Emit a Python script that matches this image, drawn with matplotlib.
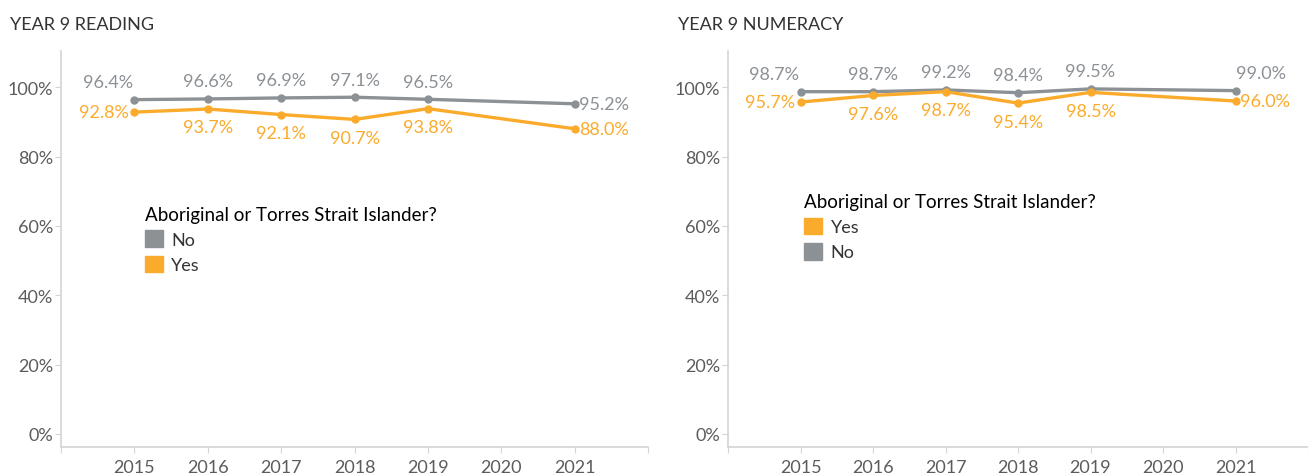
import matplotlib.pyplot as plt
from matplotlib.patches import Patch
from matplotlib.ticker import PercentFormatter

plt.rcParams['font.family'] = ['Lato', 'DejaVu Sans']

# Data (2020 missing)
years = [2015, 2016, 2017, 2018, 2019, 2021]
reading_no = [96.4, 96.6, 96.9, 97.1, 96.5, 95.2]
reading_yes = [92.8, 93.7, 92.1, 90.7, 93.8, 88.0]
numeracy_no = [98.7, 98.7, 99.2, 98.4, 99.5, 99.0]
numeracy_yes = [95.7, 97.6, 98.7, 95.4, 98.5, 96.0]

# where each label sits relative to its point
reading_no_pos = ['aboveleft', 'above', 'above', 'above', 'above', 'right']
reading_yes_pos = ['left', 'below', 'below', 'below', 'below', 'right']
numeracy_no_pos = ['aboveleft', 'above', 'above', 'above', 'above', 'aboveright']
numeracy_yes_pos = ['left', 'below', 'below', 'below', 'below', 'right']

GREY = '#8c9196'
ORANGE = '#fbab2b'
AXIS = '#d4d4d4'
TEXT = '#5c5c5c'

offsets = {
    'above': ((0, 9), 'center', 'baseline'),
    'aboveleft': ((-1, 9), 'right', 'baseline'),
    'aboveright': ((0, 9), 'left', 'baseline'),
    'below': ((0, -7.5), 'center', 'top'),
    'left': ((-4, 0), 'right', 'center'),
    'right': ((3, 0), 'left', 'center'),
}


def draw_series(ax, vals, pos, color):
    ax.plot(years, vals, color=color, lw=2.4, marker='o', ms=5, zorder=3)
    for x, v, p in zip(years, vals, pos):
        off, ha, va = offsets[p]
        ax.annotate(f'{v:.1f}%', (x, v), xytext=off, textcoords='offset points',
                    ha=ha, va=va, color=color, fontsize=13)


def style_axes(ax):
    ax.set_xlim(2014, 2022)
    ax.set_ylim(-3.75, 110.4)
    ax.set_yticks([0, 20, 40, 60, 80, 100])
    ax.yaxis.set_major_formatter(PercentFormatter(decimals=0))
    ax.set_xticks(range(2014, 2023))
    ax.set_xticklabels([''] + [str(y) for y in range(2015, 2022)] + [''])
    for s in ['top', 'right']:
        ax.spines[s].set_visible(False)
    for s in ['left', 'bottom']:
        ax.spines[s].set_color(AXIS)
        ax.spines[s].set_linewidth(1.2)
    ax.tick_params(colors=AXIS, labelcolor=TEXT, labelsize=13, length=4)
    ax.tick_params(axis='y', pad=1.5)
    ax.tick_params(axis='x', pad=4.5)


def add_legend(ax, handles, anchor):
    ax.legend(handles=handles, title='Aboriginal or Torres Strait Islander?',
              loc='upper left', bbox_to_anchor=anchor, frameon=False,
              alignment='left', borderpad=0, fontsize=13, title_fontsize=13.5,
              handlelength=1.0, handleheight=1.05, handletextpad=0.45,
              labelspacing=0.42, labelcolor='#333333')


fig = plt.figure(figsize=(13.08, 4.77), dpi=100)
ax1 = fig.add_axes([0.0466, 0.0608, 0.449, 0.830])
ax2 = fig.add_axes([0.5566, 0.0608, 0.4434, 0.830])

draw_series(ax1, reading_no, reading_no_pos, GREY)
draw_series(ax1, reading_yes, reading_yes_pos, ORANGE)
style_axes(ax1)
add_legend(ax1, [Patch(color=GREY, label='No'), Patch(color=ORANGE, label='Yes')],
           (0.128, 0.632))

draw_series(ax2, numeracy_no, numeracy_no_pos, GREY)
draw_series(ax2, numeracy_yes, numeracy_yes_pos, ORANGE)
style_axes(ax2)
add_legend(ax2, [Patch(color=ORANGE, label='Yes'), Patch(color=GREY, label='No')],
           (0.116, 0.664))

fig.text(10 / 1308, 1 - 25 / 477, 'YEAR 9 READING', fontsize=13, color='#333333', va='center')
fig.text(678 / 1308, 1 - 25 / 477, 'YEAR 9 NUMERACY', fontsize=13, color='#333333', va='center')

fig.savefig('out.png', dpi=100)
